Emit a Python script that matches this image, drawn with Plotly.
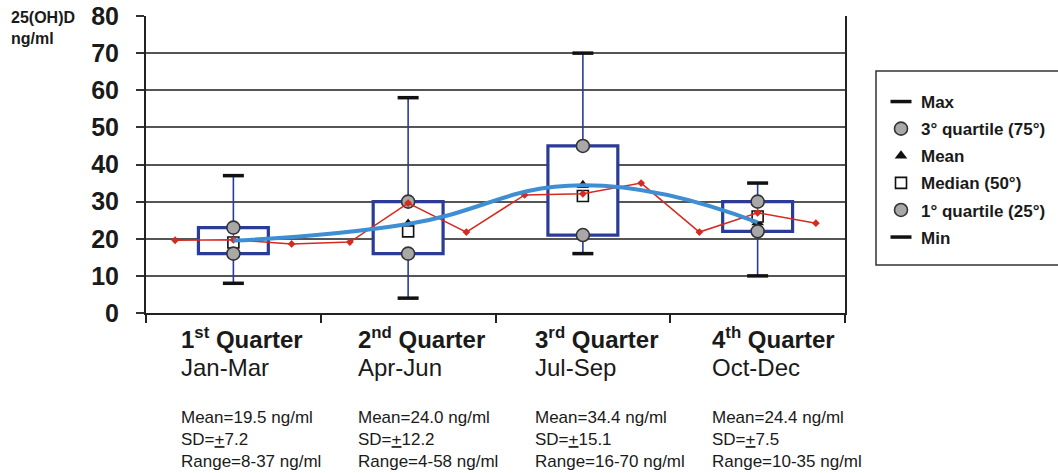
import plotly.graph_objects as go

# Seasonal 25(OH)D serum levels, ng/ml, by quarter
quarters = [1, 2, 3, 4]
q_titles = ["1<sup>st</sup> Quarter", "2<sup>nd</sup> Quarter", "3<sup>rd</sup> Quarter", "4<sup>th</sup> Quarter"]
q_months = ["Jan-Mar", "Apr-Jun", "Jul-Sep", "Oct-Dec"]
v_max = [37, 58, 70, 35]
v_q3 = [23, 30, 45, 30]
v_mean = [19.5, 24.0, 34.4, 24.4]
v_median = [19, 22, 31.5, 26]
v_q1 = [16, 16, 21, 22]
v_min = [8, 4, 16, 10]
v_sd = [7.2, 12.2, 15.1, 7.5]

# Monthly means, Jan..Dec
months = ["Jan", "Feb", "Mar", "Apr", "May", "Jun", "Jul", "Aug", "Sep", "Oct", "Nov", "Dec"]
monthly_mean = [19.6, 19.7, 18.6, 19.1, 29.6, 21.8, 31.8, 32.1, 35.0, 21.8, 27.0, 24.2]

# y tick values
y_ticks = [0, 10, 20, 30, 40, 50, 60, 70, 80]

# ---- layout geometry (pixels) ----
W, H = 1058, 473
ML, MR, MT, MB = 146, 213, 16, 160
PW, PH = W - ML - MR, H - MT - MB


def pxx(px):
    return (px - ML) / PW


def pxy(py):
    return (H - MB - py) / PH


FONT = "Liberation Sans, Arial, sans-serif"
BOX_BLUE = "#2b3c98"
RED = "#d42a20"
LIGHT_BLUE = "#3d8ed2"

fig = go.Figure()

# interquartile boxes
fig.add_trace(go.Bar(
    x=quarters,
    base=v_q1,
    y=[hi - lo for hi, lo in zip(v_q3, v_q1)],
    width=0.4,
    marker=dict(color="white", line=dict(color=BOX_BLUE, width=3.2)),
    showlegend=False, hoverinfo="skip",
))

# whiskers: min -> Q1 and Q3 -> max
wx, wy = [], []
for q, lo, b1, b3, hi in zip(quarters, v_min, v_q1, v_q3, v_max):
    wx += [q, q, None, q, q, None]
    wy += [lo, b1, None, b3, hi, None]
fig.add_trace(go.Scatter(
    x=wx, y=wy, mode="lines", line=dict(color=BOX_BLUE, width=1.6),
    showlegend=False, hoverinfo="skip",
))

legend_font = dict(family=FONT, size=17, color="#1a1a1a")


def marker_trace(vals, name, rank, marker):
    return go.Scatter(
        x=quarters, y=vals, mode="markers", name=name, marker=marker,
        legendgroup=name, legendrank=rank,
    )


fig.add_trace(marker_trace(v_mean, "<b>Mean</b>", 3,
                           dict(symbol="triangle-up", size=11, color="#111111")))
fig.add_trace(marker_trace(v_median, "<b>Median (50°)</b>", 4,
                           dict(symbol="square", size=11, color="white",
                                line=dict(color="#111111", width=1.6))))
fig.add_trace(marker_trace(v_q3, "<b>3° quartile (75°)</b>", 2,
                           dict(symbol="circle", size=13, color="#a8a8a8",
                                line=dict(color="#333333", width=1.6))))
fig.add_trace(marker_trace(v_q1, "<b>1° quartile (25°)</b>", 5,
                           dict(symbol="circle", size=13, color="#a8a8a8",
                                line=dict(color="#333333", width=1.6))))
fig.add_trace(marker_trace(v_max, "<b>Max</b>", 1,
                           dict(symbol="line-ew", size=15, color="#111111",
                                line=dict(color="#111111", width=3.5))))
fig.add_trace(marker_trace(v_min, "<b>Min</b>", 6,
                           dict(symbol="line-ew", size=15, color="#111111",
                                line=dict(color="#111111", width=3.5))))

# monthly means, placed at the middle of each month within its quarter
month_x = [0.5 + (i + 0.5) / 3 for i in range(len(months))]
fig.add_trace(go.Scatter(
    x=month_x, y=monthly_mean, mode="lines+markers",
    line=dict(color=RED, width=1.5),
    marker=dict(symbol="diamond", size=6, color=RED),
    showlegend=False, hoverinfo="skip",
))

# smoothed trend through quarterly means
fig.add_trace(go.Scatter(
    x=quarters, y=v_mean, mode="lines",
    line=dict(color=LIGHT_BLUE, width=4, shape="spline", smoothing=1.3),
    showlegend=False, hoverinfo="skip",
))

annotations = [
    dict(text="<b>25(OH)D<br>ng/ml</b>", xref="paper", yref="paper",
         x=pxx(9), y=pxy(7), xanchor="left", yanchor="top", align="left",
         showarrow=False, font=dict(family=FONT, size=16, color="#1a1a1a")),
]
for i, q in enumerate(quarters):
    xl = q - 0.31 + 0.012 * i
    annotations.append(dict(
        text=f"<b>{q_titles[i]}</b>", xref="x", yref="paper", x=xl, y=pxy(338),
        xanchor="left", yanchor="middle", showarrow=False,
        font=dict(family=FONT, size=24, color="#1a1a1a")))
    annotations.append(dict(
        text=q_months[i], xref="x", yref="paper", x=xl, y=pxy(367),
        xanchor="left", yanchor="middle", showarrow=False,
        font=dict(family=FONT, size=24, color="#1a1a1a")))
    stats = (f"Mean={v_mean[i]:.1f} ng/ml<br>"
             f"SD=<u>+</u>{v_sd[i]}<br>"
             f"Range={v_min[i]}-{v_max[i]} ng/ml")
    annotations.append(dict(
        text=stats, xref="x", yref="paper", x=xl, y=pxy(439),
        xanchor="left", yanchor="middle", align="left", showarrow=False,
        font=dict(family=FONT, size=17, color="#1a1a1a")))

fig.update_layout(
    width=W, height=H,
    margin=dict(l=ML, r=MR, t=MT, b=MB, pad=0, autoexpand=False),
    paper_bgcolor="white", plot_bgcolor="white",
    showlegend=True,
    legend=dict(
        x=pxx(881), y=pxy(84), xanchor="left", yanchor="top",
        bgcolor="rgba(0,0,0,0)", borderwidth=0,
        font=legend_font, traceorder="grouped", tracegroupgap=2,
        itemclick=False, itemdoubleclick=False,
    ),
    xaxis=dict(
        range=[0.5, 4.5], tickvals=[0.5, 1.5, 2.5, 3.5, 4.5],
        showticklabels=False, ticks="outside", ticklen=8, tickwidth=2,
        tickcolor="#222222", showgrid=False, zeroline=False,
        showline=True, linecolor="#222222", linewidth=2,
    ),
    yaxis=dict(
        range=[0, 80], tickvals=y_ticks, ticktext=[f"<b>{v}</b>" for v in y_ticks],
        ticks="outside", ticklen=8, tickwidth=2, tickcolor="#333333",
        tickfont=dict(family=FONT, size=25, color="#1a1a1a"),
        ticklabelstandoff=12,
        showgrid=True, gridcolor="#555555", gridwidth=1.6, zeroline=False,
        showline=True, linecolor="#222222", linewidth=2, mirror=True,
    ),
    annotations=annotations,
    shapes=[
        dict(type="rect", xref="paper", yref="paper",
             x0=pxx(876), x1=pxx(1075), y0=pxy(265), y1=pxy(71),
             line=dict(color="#333333", width=1.5), fillcolor="rgba(0,0,0,0)"),
    ],
)

fig.write_html("out.html")
